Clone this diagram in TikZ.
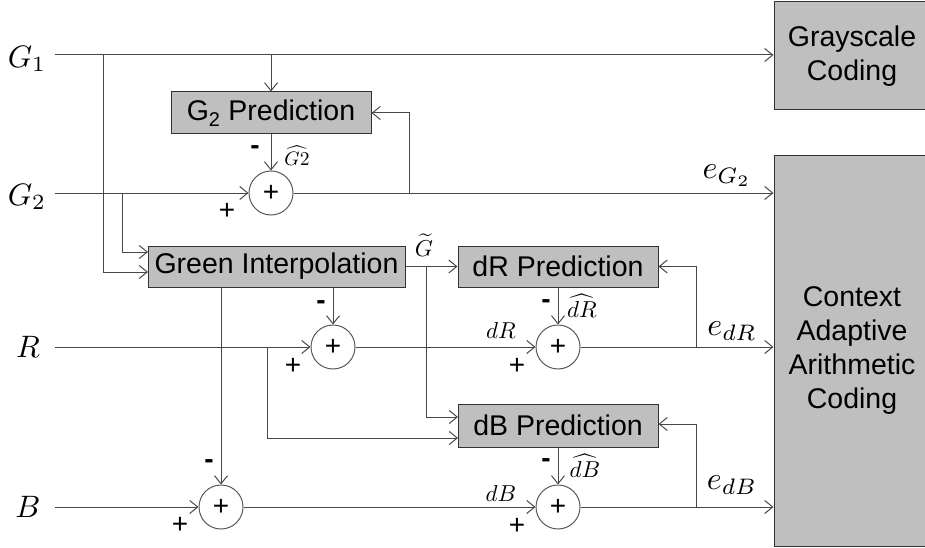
\documentclass[tikz,border=0pt]{standalone}
\usepackage{fontspec}
\newfontfamily\arial{Liberation Sans}
\usetikzlibrary{arrows.meta,calc}

\tikzset{
  ln/.style={draw=black!72, line width=1pt},
  arr/.style={ln, -{Straight Barb[length=8pt,width=13pt,line width=1pt]}},
  blk/.style={draw=black!80, fill=black!25, line width=1pt, inner sep=0pt,
              font=\arial\fontsize{28.5}{34}\selectfont, align=center},
  sum/.style={circle, draw=black!65, line width=1pt, minimum size=44pt,
              inner sep=0pt, font=\arial\fontsize{28}{30}\selectfont},
  sgn/.style={inner sep=0pt, font=\arial\fontsize{28}{30}\selectfont},
  neg/.style={inner sep=0pt, font=\arial\bfseries\fontsize{28}{30}\selectfont},
  big/.style={inner sep=0pt, scale=3.1},
  err/.style={inner sep=0pt, scale=3.2},
  small/.style={inner sep=0pt, scale=2.3},
}

\begin{document}
\begin{tikzpicture}[x=1pt,y=-1pt]
\useasboundingbox (0,0) rectangle (925,548);

% processing blocks
\node[blk, minimum width=200pt, minimum height=42pt] (g2p) at (271,113) {G\textsubscript{2} Prediction};
\node[blk, minimum width=257pt, minimum height=41pt] (gi) at (276.5,266.5) {Green Interpolation};
\node[blk, minimum width=200pt, minimum height=41pt] (dr) at (558,266.5) {dR Prediction};
\node[blk, minimum width=200pt, minimum height=43pt] (db) at (558,425.5) {dB Prediction};
\node[blk, minimum width=156pt, minimum height=108pt] (gray) at (852,56) {Grayscale\\Coding};
\node[blk, minimum width=156pt, minimum height=390pt] (caac) at (852,351) {Context\\Adaptive\\Arithmetic\\Coding};

% adders
\node[sum] (s2)  at (271,193) {+};
\node[sum] (sr)  at (333,347) {+};
\node[sum] (sb)  at (221,507) {+};
\node[sum] (sdr) at (558,347) {+};
\node[sum] (sdb) at (558,507) {+};

% inputs
\node[big] (lg1) at (27,59)  {$G_1$};
\node[big] (lg2) at (27,197) {$G_2$};
\node[big] (lr)  at (28,347) {$R$};
\node[big] (lb)  at (28,507) {$B$};
\coordinate (g1in) at (55,55);
\coordinate (g2in) at (55,193);
\coordinate (rin)  at (55,347);
\coordinate (bin)  at (55,507);

% junction points
\coordinate (j1)  at (103,55);
\coordinate (j1e) at (148,272);
\coordinate (j2)  at (122,193);
\coordinate (j2e) at (148,252);
\coordinate (fg)  at (409,193);
\coordinate (jt)  at (426,266.5);
\coordinate (jte) at (458,417);
\coordinate (jr)  at (267,347);
\coordinate (jre) at (458,438);
\coordinate (fr)  at (696,347);
\coordinate (fb)  at (696,507);

% G1 path
\draw[arr] (g1in) -- (g1in -| gray.west);
\draw[arr] (g1in -| g2p) -- (g2p.north);
\draw[arr] (j1) |- (j1e);

% G2 path
\draw[arr] (g2in) -- (s2.west);
\draw[arr] (j2) |- (j2e);
\draw[arr] (g2p.south) -- (s2.north);
\draw[arr] (s2.east) -- (s2 -| caac.west);
\draw[arr] (fg) |- (g2p.east);

% interpolated green
\draw[arr] (gi.east) -- (dr.west);
\draw[arr] (jt) |- (jte);
\draw[arr] (gi.south -| sr) -- (sr.north);
\draw[arr] (gi.south -| sb) -- (sb.north);

% R path
\draw[arr] (rin) -- (sr.west);
\draw[arr] (jr) |- (jre);
\draw[arr] (sr.east) -- (sdr.west);
\draw[arr] (dr.south) -- (sdr.north);
\draw[arr] (sdr.east) -- (sdr -| caac.west);
\draw[arr] (fr) |- (dr.east);

% B path
\draw[arr] (bin) -- (sb.west);
\draw[arr] (sb.east) -- (sdb.west);
\draw[arr] (db.south) -- (sdb.north);
\draw[arr] (sdb.east) -- (sdb -| caac.west);
\draw[arr] (fb) |- ([yshift=1.5pt]db.east);

% signs at the adders
\node[neg] (m2)  at (255,150) {-};
\node[sgn] (p2)  at (227,211) {+};
\node[neg] (mr)  at (321,305) {-};
\node[sgn] (pr)  at (293,366) {+};
\node[neg] (mb)  at (209,464) {-};
\node[sgn] (pb)  at (180,525) {+};
\node[neg] (mdr) at (546,304) {-};
\node[sgn] (pdr) at (517,366) {+};
\node[neg] (mdb) at (546,463) {-};
\node[sgn] (pdb) at (517,526) {+};

% signal labels
\node[inner sep=0pt, scale=1.95] (hg2) at (297,156) {$\widehat{G2}$};
\node[small] (tg)  at (424,245) {$\widetilde{G}$};
\node[small] (ldr) at (501,331) {$dR$};
\node[small] (hdr) at (582,306) {$\widehat{dR}$};
\node[small] (ldb) at (501,494) {$dB$};
\node[small] (hdb) at (585,466) {$\widehat{dB}$};
\node[err] (eg2) at (727,176) {$e_{G_2}$};
\node[err] (edr) at (732,331) {$e_{dR}$};
\node[err] (edb) at (732,485) {$e_{dB}$};
\end{tikzpicture}
\end{document}
